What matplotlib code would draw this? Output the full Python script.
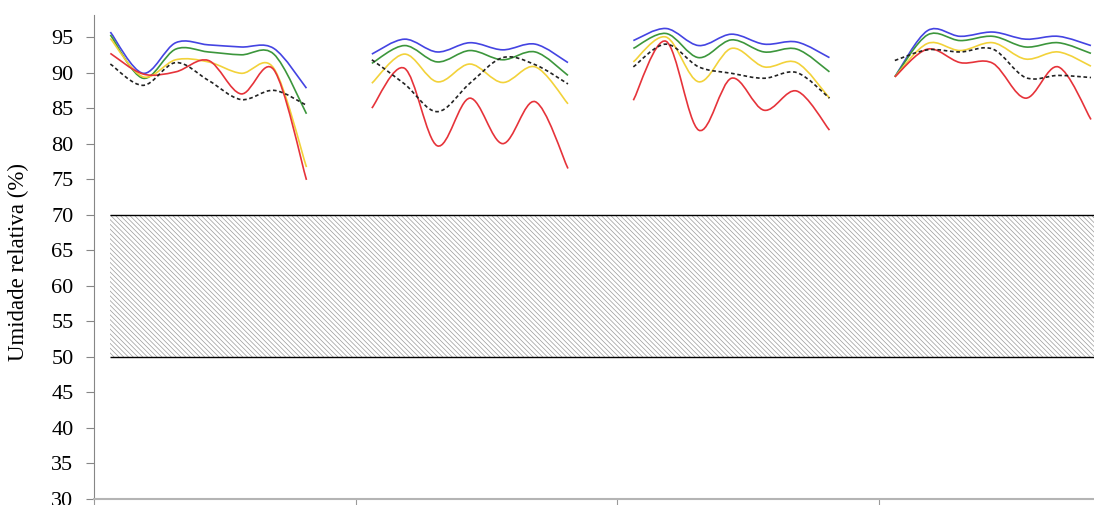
import numpy as np
import matplotlib.pyplot as plt
from matplotlib.path import Path
from matplotlib.patches import PathPatch

plt.rcParams['font.family'] = ['Liberation Serif', 'DejaVu Serif']
plt.rcParams['hatch.linewidth'] = 0.5

# 4 periods, 7 readings each; every period takes 8 category slots (last one empty)
n_groups = 4
n_points = 7
slots = 8

blue = [95.7, 89.9, 94.2, 93.9, 93.6, 93.4, 87.8,
        92.6, 94.7, 92.9, 94.2, 93.2, 94.0, 91.4,
        94.5, 96.2, 93.8, 95.4, 94.0, 94.3, 92.1,
        89.4, 95.9, 95.1, 95.7, 94.7, 95.1, 93.8]
green = [95.3, 89.2, 93.3, 92.9, 92.5, 92.6, 84.2,
         91.3, 93.8, 91.5, 93.1, 91.8, 92.9, 89.6,
         93.4, 95.5, 92.1, 94.6, 92.9, 93.3, 90.1,
         89.4, 95.3, 94.5, 95.1, 93.6, 94.2, 92.7]
yellow = [94.8, 89.4, 91.8, 91.5, 89.9, 90.6, 76.7,
          88.5, 92.6, 88.7, 91.2, 88.6, 90.8, 85.6,
          91.5, 95.0, 88.7, 93.4, 90.8, 91.4, 86.4,
          89.4, 94.1, 93.1, 94.2, 91.9, 92.9, 90.9]
red = [92.7, 89.8, 90.1, 91.7, 87.0, 90.4, 74.9,
       85.0, 90.6, 79.7, 86.4, 80.0, 85.9, 76.5,
       86.1, 94.4, 81.9, 89.2, 84.7, 87.4, 81.9,
       89.4, 93.3, 91.4, 91.3, 86.4, 90.8, 83.4]
dashed = [91.2, 88.2, 91.4, 88.9, 86.2, 87.5, 85.4,
          91.8, 88.4, 84.5, 88.5, 92.1, 91.1, 88.4,
          90.8, 94.0, 90.8, 89.9, 89.2, 90.0, 86.4,
          91.7, 93.2, 92.9, 93.3, 89.3, 89.6, 89.3]

series = [(blue, '#4444e2', '-'),
          (green, '#3c963c', '-'),
          (yellow, '#f2d23a', '-'),
          (red, '#e6333a', '-'),
          (dashed, '#222222', (0, (2.2, 1.6)))]


def smooth_path(x, y):
    # cubic bezier through the points, same idea as the "smoothed line" option
    p = np.column_stack([x, y])
    pad = np.vstack([p[0], p, p[-1]])
    verts = [p[0]]
    codes = [Path.MOVETO]
    for i in range(len(p) - 1):
        c1 = pad[i + 1] + (pad[i + 2] - pad[i]) / 6
        c2 = pad[i + 2] - (pad[i + 3] - pad[i + 1]) / 6
        verts += [c1, c2, pad[i + 2]]
        codes += [Path.CURVE4] * 3
    return Path(verts, codes)


fig = plt.figure(figsize=(10.94, 5.05), dpi=100)
ax = fig.add_axes([94 / 1094, 6 / 505, 1046 / 1094, 484 / 505])

# comfort band 50-70 %
ax.fill_between([0.5, n_groups * slots], 50, 70, facecolor='none',
                edgecolor='#9a9a9a', hatch='\\' * 7, linewidth=0)
ax.hlines([50, 70], 0.5, n_groups * slots, color='black', lw=1)

for values, color, ls in series:
    for g in range(n_groups):
        x = g * slots + np.arange(n_points) + 0.5
        y = values[g * n_points:(g + 1) * n_points]
        ax.add_patch(PathPatch(smooth_path(x, y), fill=False, edgecolor=color,
                               lw=1.2, linestyle=ls))

ax.set_xlim(0, n_groups * slots)
ax.set_ylim(30, 98.1)
ax.set_yticks(np.arange(30, 100, 5))
ax.set_xticks(np.arange(0, n_groups * slots + 1, slots))
ax.set_xticklabels([])
ax.tick_params(axis='y', length=5.8, color='#868686', labelsize=16, pad=9)
ax.tick_params(axis='x', length=5, color='#9a9a9a')
for s in ['top', 'right']:
    ax.spines[s].set_visible(False)
ax.spines['left'].set_color('#868686')
ax.spines['bottom'].set_color('#b4b4b4')
ax.spines['bottom'].set_linewidth(1.5)
ax.set_ylabel('Umidade relativa (%)', fontsize=16.5)
ax.yaxis.set_label_coords(-0.062, 0.49)

fig.savefig('out.png', dpi=100)
